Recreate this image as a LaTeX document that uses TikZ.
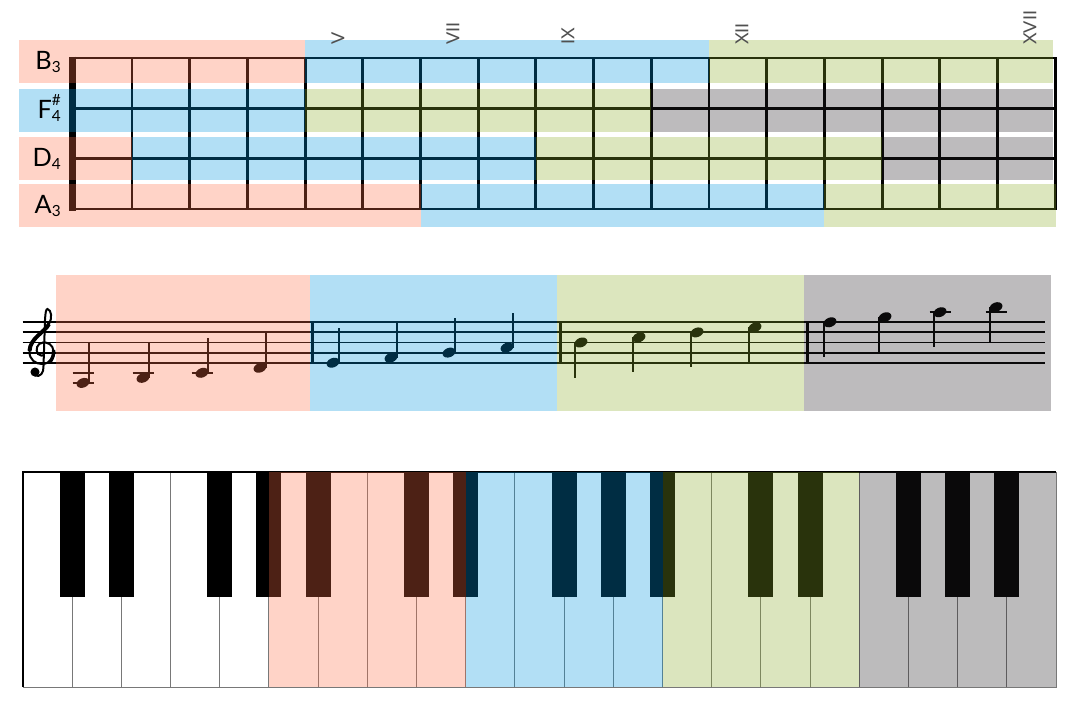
\documentclass[tikz,border=0pt]{standalone}
\usepackage{fontspec}
\setmainfont{Lato}
\definecolor{regionred}{RGB}{255,110,70}
\definecolor{regionblue}{RGB}{0,150,222}
\definecolor{regiongreen}{RGB}{138,172,40}
\definecolor{regiongray}{RGB}{35,30,35}
\definecolor{numeral}{RGB}{80,80,80}
\definecolor{keyline}{RGB}{120,120,120}
\newcommand{\strsub}[1]{\raisebox{-2.5pt}{\fontsize{11.5}{13}\selectfont #1}}
\newcommand{\strsupsub}[2]{\makebox[0pt][l]{\raisebox{9.5pt}{\fontsize{11.5}{13}\selectfont #1}}\raisebox{-2.8pt}{\fontsize{11.5}{13}\selectfont #2}}
\begin{document}
\begin{tikzpicture}[x=0.75pt, y=-0.75pt,
        region/.style={fill=#1, fill opacity=0.3},
        fretline/.style={line width=2.2pt},
        strlabel/.style={anchor=base east, inner sep=0pt, font=\fontsize{19}{22}\selectfont},
        numlabel/.style={rotate=90, anchor=west, inner sep=0pt, text=numeral, font=\fontsize{13.5}{16}\selectfont},
        staffline/.style={line width=1.4pt},
        stem/.style={line width=1.2pt},
        ledger/.style={line width=1.4pt},
        barline/.style={line width=1.6pt},
        clefline/.style={line width=1.5pt, line cap=round},
        whitekey/.style={draw=keyline, line width=0.75pt, fill=white},
        blackkey/.style={fill=black}]
    \useasboundingbox (0, 0) rectangle (1080, 700);

    % fretboard
    \draw[fretline] (74.3, 58) rectangle (1055.2, 209);
    \foreach \s in {108.3, 158.6} {
        \draw[fretline] (74.3, \s) -- (1055.2, \s);
    }
    \foreach \k in {1, ..., 16} {
        \draw[fretline] ({74.3 + 57.7 * \k}, 58) -- ({74.3 + 57.7 * \k}, 209);
    }
    \draw[line width=5.25pt] (72.5, 56.5) -- (72.5, 210.5);

    \foreach \by/\xa/\xb/\clr in {
            40/19/305.1/regionred, 40/305.1/709/regionblue, 40/709/1053/regiongreen,
            89/19/305.1/regionblue, 89/305.1/651.3/regiongreen, 89/651.3/1053/regiongray,
            137/19/132/regionred, 137/132/535.9/regionblue, 137/535.9/882.1/regiongreen, 137/882.1/1053/regiongray,
            184/19/420.5/regionred, 184/420.5/824.4/regionblue, 184/824.4/1056/regiongreen} {
        \fill[region=\clr] (\xa, \by) rectangle (\xb, \by + 43);
    }

    \node[strlabel] (strB) at (61, 69) {B\strsub{3}};
    \node[strlabel] (strF) at (61, 118) {F\strsupsub{\#}{4}};
    \node[strlabel] (strD) at (61, 166) {D\strsub{4}};
    \node[strlabel] (strA) at (61, 213) {A\strsub{3}};

    \node[numlabel] (numV) at (338, 45) {V};
    \node[numlabel] (numVII) at (453, 45) {VII};
    \node[numlabel] (numIX) at (568, 45) {IX};
    \node[numlabel] (numXII) at (742, 45) {XII};
    \node[numlabel] (numXVII) at (1030, 45) {XVII};

    % staff
    \foreach \k in {0, ..., 4} {
        \draw[staffline] (22.5, {322.3 + 10.1 * \k}) -- (1045, {322.3 + 10.1 * \k});
    }
    \foreach \bx in {312.5, 560.5, 807.5} {
        \draw[barline] (\bx, 322.3) -- (\bx, 362.7);
    }
    % treble clef
    \fill (35, 372) circle [radius=3.4pt];
    \draw[clefline] (35, 375.5) .. controls (40, 377.5) and (44, 373) .. (43.5, 366)
        -- (45, 320) .. controls (45.5, 312) and (46, 309) .. (47.5, 309)
        .. controls (51.5, 310) and (52.5, 318) .. (49, 324)
        .. controls (45, 332) and (30, 338) .. (29.5, 351)
        .. controls (29, 360) and (36, 364) .. (42, 364)
        .. controls (50, 364) and (54, 357) .. (53.5, 351)
        .. controls (53, 345) and (48, 342) .. (43, 342.5)
        .. controls (37, 343) and (35, 350) .. (38, 354)
        .. controls (40, 356) and (43, 356) .. (44, 355);
    \draw[line width=3pt] (49, 324) .. controls (45, 332) and (30, 338) .. (29.5, 351);
    \draw[line width=2.6pt] (50, 362) .. controls (53, 358) and (54, 354) .. (53.5, 350);

    \foreach \nx/\n in {83/-4, 143/-3, 202/-2, 260/-1, 333/0, 391/1, 449/2, 507/3,
            581/4, 639/5, 697/6, 755/7, 830/8, 885/9, 940/10, 996/11} {
        \pgfmathsetmacro{\ny}{362.7 - 5.05 * \n}
        \fill[rotate around={22:(\nx, \ny)}] (\nx, \ny) ellipse [x radius=5pt, y radius=3.5pt];
        \ifnum\n<4
            \draw[stem] (\nx + 6, \ny) -- (\nx + 6, {min(\ny - 35, 342.5)});
        \else
            \draw[stem] (\nx - 6, \ny) -- (\nx - 6, \ny + 35);
        \fi
    }
    \foreach \lx/\ly in {83/372.8, 83/382.9, 143/372.8, 202/372.8, 940/312.2, 996/312.2} {
        \draw[ledger] (\lx - 10.5, \ly) -- (\lx + 10.5, \ly);
    }

    \foreach \xa/\xb/\clr in {56/310/regionred, 310/557/regionblue, 557/804/regiongreen, 804/1051/regiongray} {
        \fill[region=\clr] (\xa, 275) rectangle (\xb, 410.5);
    }

    % keyboard
    \foreach \i in {0, ..., 20} {
        \draw[whitekey] ({23 + 49.19 * \i}, 472) rectangle ({23 + 49.19 * (\i + 1)}, 687);
    }
    \draw[line width=0.9pt] (23, 687) -- (23, 472) -- (1056, 472);
    \foreach \b in {1, 2, 4, 5, 6, 8, 9, 11, 12, 13, 15, 16, 18, 19, 20} {
        \fill[blackkey] ({23 + 49.19 * \b - 12.5}, 472) rectangle ({23 + 49.19 * \b + 12.5}, 597);
    }
    \foreach \xa/\xb/\clr in {269/465.7/regionred, 465.7/662.5/regionblue, 662.5/859.2/regiongreen, 859.2/1056/regiongray} {
        \fill[region=\clr] (\xa, 472) rectangle (\xb, 687);
    }
\end{tikzpicture}
\end{document}
